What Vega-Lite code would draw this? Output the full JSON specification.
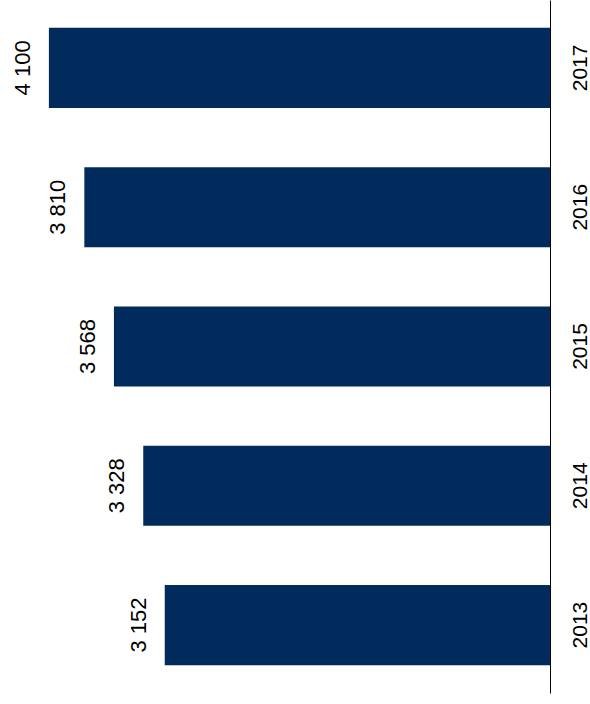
{
  "$schema": "https://vega.github.io/schema/vega-lite/v6.json",
  "width": 550,
  "height": 693,
  "padding": {"left": 0, "top": 0, "right": 40, "bottom": 11},
  "autosize": "none",
  "config": {
    "view": {"stroke": null},
    "font": "Liberation Sans",
    "locale": {"number": {"decimal": ",", "thousands": " ", "grouping": [3], "currency": ["", " €"]}}
  },
  "data": {"values": [
    {"year": "2013", "value": 3152},
    {"year": "2014", "value": 3328},
    {"year": "2015", "value": 3568},
    {"year": "2016", "value": 3810},
    {"year": "2017", "value": 4100}
  ]},
  "encoding": {
    "y": {
      "field": "year", "type": "ordinal", "sort": "descending",
      "scale": {"paddingInner": 0.425, "paddingOuter": 0.2},
      "axis": {
        "orient": "right", "title": null, "ticks": false,
        "domainColor": "#000000", "domainWidth": 1,
        "labelAngle": -90, "labelAlign": "center", "labelBaseline": "middle",
        "labelPadding": 30, "labelFontSize": 21, "labelColor": "#000000", "labelFont": "Liberation Sans"
      }
    },
    "x": {
      "field": "value", "type": "quantitative",
      "scale": {"domain": [0, 4500], "reverse": true, "nice": false},
      "axis": null
    }
  },
  "layer": [
    {"mark": {"type": "bar", "color": "#002B5C"}},
    {
      "mark": {"type": "text", "angle": 270, "align": "center", "baseline": "middle", "xOffset": -26, "fontSize": 22, "color": "#000000"},
      "encoding": {"text": {"field": "value", "type": "quantitative", "format": ",d"}}
    }
  ]
}
